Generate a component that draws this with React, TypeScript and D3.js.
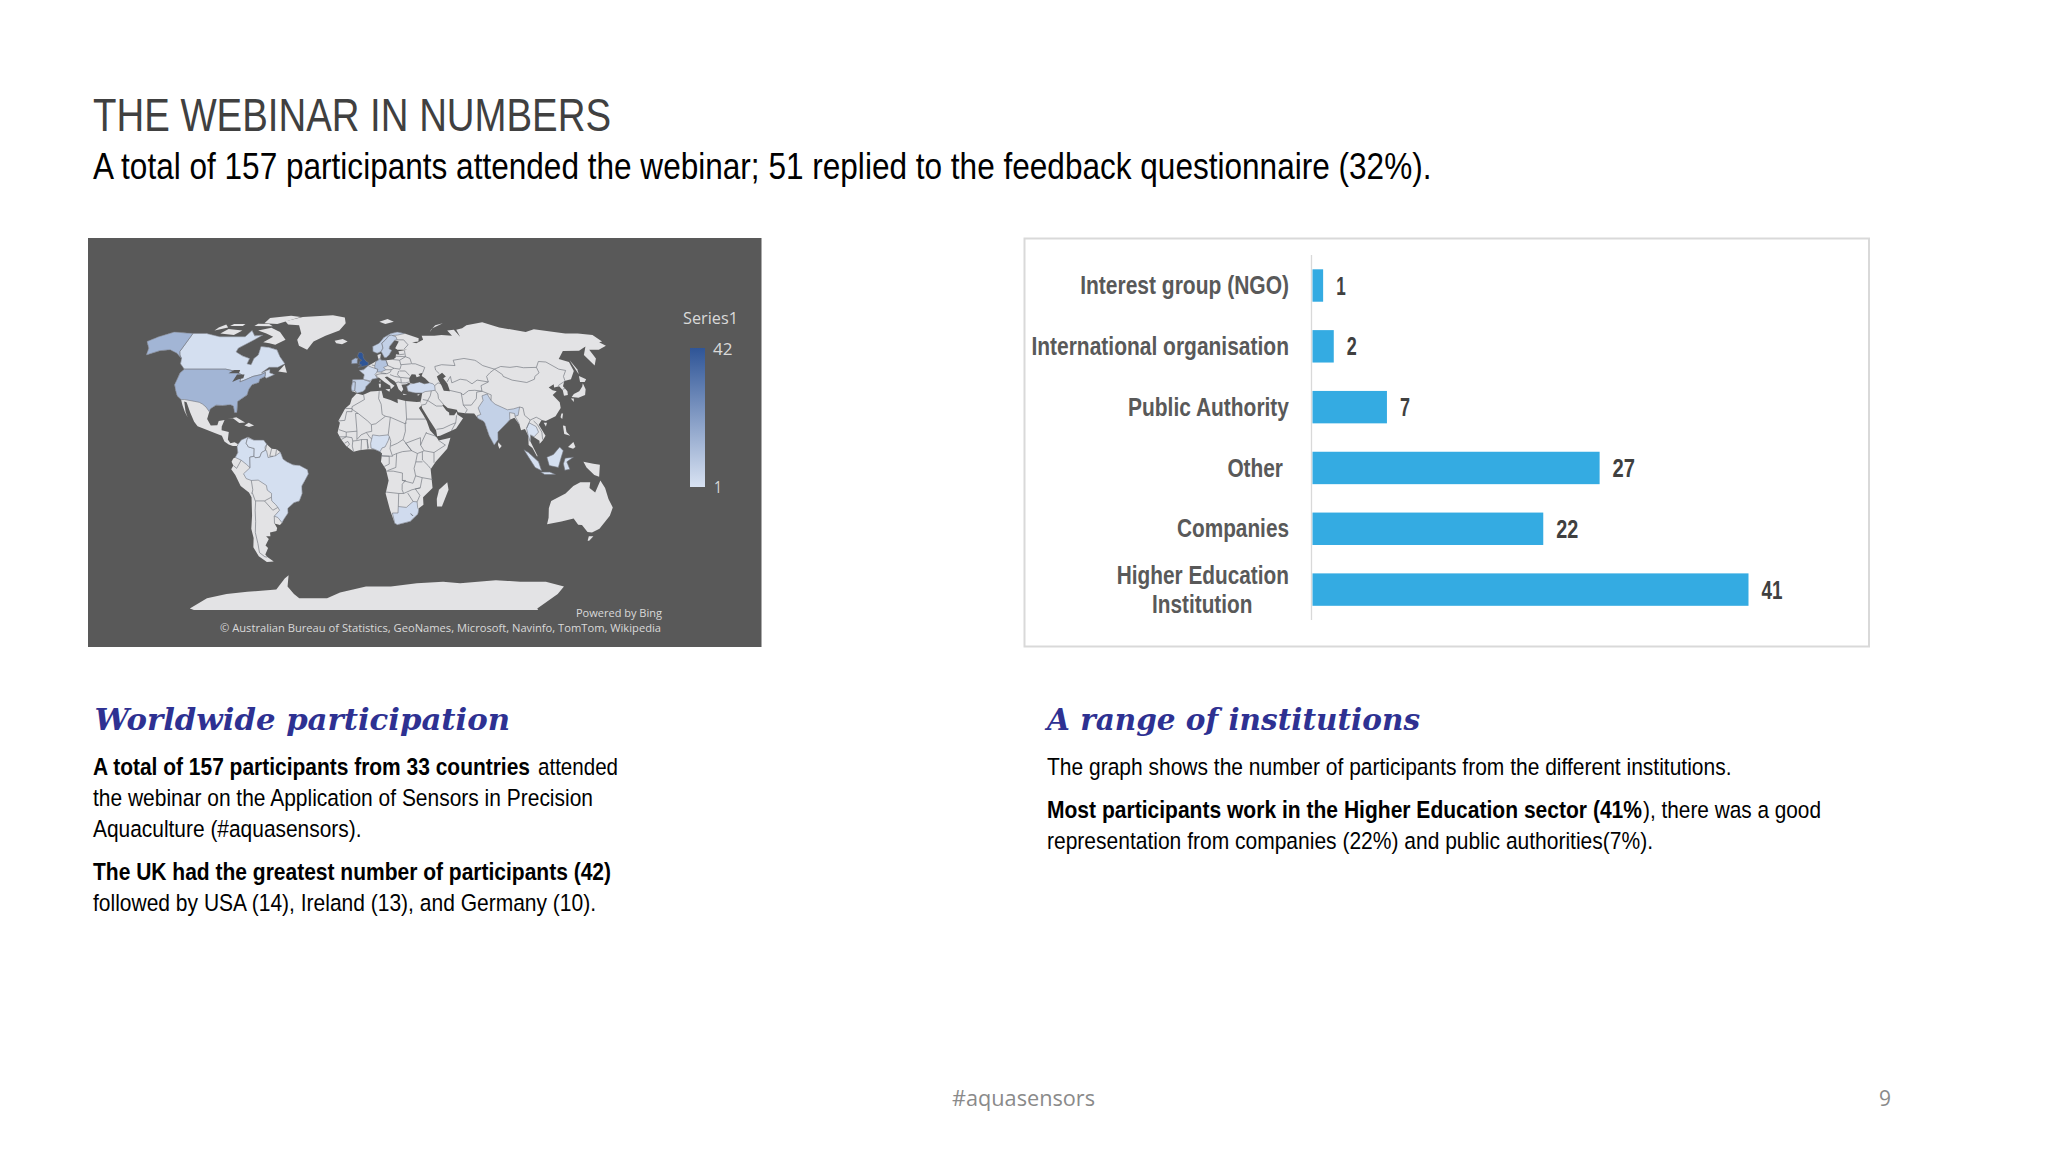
import React from 'react';
import * as d3 from 'd3';

/* ---------- bar chart data ---------- */
const categories = ['Interest group (NGO)', 'International organisation', 'Public Authority', 'Other', 'Companies', 'Higher Education Institution'];
const barLengths = [1, 2, 7, 27, 21.7, 41];
const valueLabels = ['1', '2', '7', '27', '22', '41'];

/* ---------- participants per country (choropleth) ---------- */
const countryCounts: Record<string, number> = {
  uk: 42, usa: 14, ireland: 13, germany: 10, portugal: 7, india: 6, spain: 6, sweden: 6, norway: 6,
  southAfrica: 3, turkey: 3, indonesia: 2, france: 3, canada: 2, brazil: 2, nigeria: 2, colombia: 2, thailand: 1, venezuela: 1,
};

/* ---------- pseudo-cylindrical table ---------- */
const tableLat = [0, 5, 10, 15, 20, 25, 30, 35, 40, 45, 50, 55, 60, 65, 70, 75, 80, 85, 90];
const tableLen = [1, .9986, .9954, .99, .9822, .973, .96, .9427, .93, .908, .885, .855, .825, .79, .75, .70, .65, .61, .576];
const tableDrop = [0, .062, .124, .186, .248, .31, .372, .434, .4958, .5571, .6176, .6769, .7346, .7903, .8435, .8936, .9394, .9761, 1];

/* ---------- geography, lon/lat ---------- */
type R = number[][];
const northAmericaLand: R = [[-139,70],[-156,71],[-163,68],[-167,65],[-160,61],[-158,58.5],[-157,57],[-150,59.5],[-143,60],[-136,58],[-130,55],[-128,52],[-123,49],[-124.6,47],[-124.3,40.5],[-122.5,37.5],[-120.5,34.5],[-117.1,32.5],[-115,29.5],[-112.5,26],[-110,23],[-112,26],[-114.7,31.5],[-113,31],[-109,25.5],[-105.5,20.5],[-103,18.2],[-96,15.8],[-92,14.5],[-87.5,13],[-85.7,10],[-83,8.3],[-80.5,7.5],[-78,7.5],[-77.3,8.5],[-79.5,9.5],[-82,9],[-83.7,11],[-83.5,15],[-88,16],[-88.2,18],[-87,21.5],[-90.5,21],[-91,18.7],[-95,18.6],[-97.8,22],[-97.3,26],[-97,27.5],[-94,29.5],[-90,29.3],[-85,29.7],[-83,29],[-81.5,25.5],[-80,25.5],[-81,31.5],[-76,35],[-75.5,38],[-74,40.5],[-70,41.7],[-70,43.5],[-67,45],[-66,44],[-61,46],[-64.5,47],[-65,49],[-70,47],[-66,50],[-60,50],[-56,52],[-61,56],[-65,60],[-72,61.5],[-78,62],[-77,57],[-79,55],[-79,51.5],[-82,52],[-82,55],[-88,56.5],[-94,58.8],[-94,61],[-86,66],[-82,69],[-88,68.5],[-94,72],[-95,68],[-108,68],[-115,68],[-128,70]];
const southAmericaLand: R = [[-77.3,8.5],[-75.5,10.8],[-71.5,12.4],[-68,10.7],[-62,10.7],[-60,8.5],[-57,6],[-54,5.8],[-51.6,4.2],[-50,0.5],[-48,-0.8],[-44,-2.6],[-40,-2.9],[-35.3,-5.2],[-34.8,-7.5],[-37,-11],[-39,-14],[-39,-18],[-41,-22],[-44.5,-23],[-48.5,-26],[-48.7,-28.5],[-52,-32],[-53.4,-33.7],[-55,-35],[-58.3,-34.2],[-57,-36.5],[-57.7,-38.2],[-62,-39],[-62.2,-41],[-65,-41],[-63.7,-42.5],[-67,-46],[-65.8,-47.5],[-69,-51],[-68.3,-52.5],[-65,-55],[-70,-55.3],[-74,-52],[-75.5,-47],[-73.5,-42],[-73.7,-37],[-71.5,-30],[-70.2,-20],[-71.5,-17.5],[-76.2,-14],[-79,-8],[-81.3,-5],[-80,-3],[-81,-1],[-80,0.8],[-78.8,1.4],[-77.3,4],[-77.9,7.2]];
const africaLand: R = [[-6,35.8],[-2,35],[3,36.9],[10,37.3],[11,33.5],[15.5,32.2],[20,30.5],[20,32.8],[25,31.7],[32,31.2],[34.3,31.3],[34.9,29.5],[33,28],[35.5,24],[37.3,21],[39,16],[43,12],[44,10.5],[51.2,11.9],[49,6],[42,-1],[39,-5],[40.5,-15],[35,-20],[35.5,-24],[32.8,-26],[32.5,-29],[28,-33],[20,-34.8],[18.3,-34],[15,-27],[12,-18],[13.7,-11],[12,-5],[9,-1],[9.7,3.5],[8.5,4.5],[5,5.8],[1,5.8],[-4,5.2],[-7.5,4.5],[-12,7.5],[-15,11],[-17.3,14.7],[-16,20],[-17,21],[-13,27.7],[-10,30],[-9,33]];
const eurasiaLand: R = [[-9,37],[-9.5,38.7],[-8.8,43.2],[-1.8,43.4],[-1.2,46],[-4.7,48.4],[-1.6,48.7],[1.5,50.9],[4,52],[7,53.5],[8.7,54],[8.2,57],[10.7,57.7],[10,55],[11,54],[14,54],[19,54.4],[21,55.5],[21.5,57.5],[24,57.2],[23.5,59.2],[28,59.7],[30,60],[23,60],[21.5,61],[25,65],[22,65.8],[17.5,62],[17,60.5],[18.8,59.8],[16.5,57],[14.3,55.5],[13,55.5],[11,59],[8,58],[5.5,59],[5,62],[10,64],[14,67.5],[20,70],[25.5,71],[31,70],[41,67],[40,65],[35,64.5],[38,64],[44,66],[44,68.5],[54,68.5],[60,69],[68,68.5],[67,72],[73,72.5],[74,68],[75,72.5],[81,73.5],[87,75.5],[104,77.7],[113,74],[130,71],[140,72.8],[160,70],[170,70],[180,69],[180,65],[177,64.5],[179,62.5],[170,60],[163,60],[162,55],[156.7,51],[155.7,57],[163,62],[155,59.5],[143,59.3],[135.5,54.7],[141,53],[140,48],[135,43.5],[130,42.5],[127.5,39.7],[129.4,37],[129,35],[126.3,34.5],[126.6,37.5],[125,39.7],[121.5,39],[122,40.7],[118,39],[120,37.5],[122.5,37],[119.3,35],[122,31],[121.5,28],[117,23.5],[110.5,21],[108,21.5],[105.8,19],[109,13],[107,10.5],[105,8.7],[105,10.3],[100,13.5],[99.5,10],[103.5,2],[103,2],[100.5,6.5],[98.3,8],[98.5,13],[97,16.7],[94.5,16],[94,19],[91.5,22.7],[88.5,21.7],[86.5,20],[80.3,15],[80,11],[77.5,8],[74.8,13],[72.8,20],[72,21],[69,22.3],[67,25],[61.5,25.2],[57,25.7],[56.5,27],[51,28],[48.5,30],[47.8,29.5],[50,26.5],[51.5,25.5],[51.5,24],[54.5,24],[56.3,26],[56.5,24.5],[59.8,22.5],[55,17],[52,15.7],[45,13],[43.2,12.8],[42.7,16],[39,21.5],[35,28],[34.8,29.5],[34.3,31.3],[35,32.8],[36,36],[32,36],[29,36.5],[27,37],[26.3,39.5],[29,41],[28,41.5],[26,40.8],[23,40.5],[24,38],[22.8,36.5],[21,38],[19.5,41.5],[18.5,42.5],[14,45],[12.4,44.5],[16,41.5],[18.5,40],[16,38],[15.7,40],[12,42],[8.5,44.4],[4,43.5],[3,42],[0,39.5],[-0.5,38],[-2,36.8],[-5.5,36]];
const greenland: R = [[-73,78.5],[-60,82],[-32,83.5],[-20,81.5],[-18,77],[-22,72],[-32,68.5],[-40,65],[-43,60],[-50,62.5],[-53,66],[-52,70],[-58,75.5],[-68,76]];
const baffin: R = [[-62,66],[-68,63],[-73,64],[-78,64.5],[-73,68],[-80,70],[-89,72],[-80,73.8],[-70,71]];
const victoriaIsland: R = [[-117,70],[-105,69],[-102,72],[-115,73]];
const ellesmere: R = [[-90,77],[-78,76.5],[-62,82],[-72,83],[-90,81]];
const banksIsland: R = [[-125,72],[-117,74],[-122,76],[-125,74]];
const devonIsland: R = [[-96,75],[-80,74.8],[-85,76.4],[-95,76.6]];
const melvilleIsland: R = [[-117,75],[-106,75],[-106,76.5],[-116,76.5]];
const newfoundland: R = [[-59,47.7],[-53,47],[-56,51.5]];
const cuba: R = [[-85,22],[-80,23],[-74.2,20.2],[-77.7,19.9],[-82,22.5]];
const hispaniola: R = [[-74.4,18.5],[-72,20],[-68.5,18.6],[-71.5,17.8]];
const iceland: R = [[-24,65.5],[-18,66.5],[-14,65],[-18,63.4],[-22.5,64]];
const svalbard: R = [[12,78],[20,80],[25,78],[17,76.5]];
const novayaZemlya: R = [[52,71],[56,73.5],[68,77],[60,75.5],[54,72.5]];
const honshu: R = [[130.9,33.9],[135,33.5],[140,35],[141.5,38],[141.3,41.3],[139.9,39.5],[137,37],[133,35.5]];
const hokkaido: R = [[140,42],[141.5,45.3],[145,43.5],[143,42]];
const kyushu: R = [[130,33],[131.8,33],[131,31.2]];
const sakhalin: R = [[142,46],[143,49],[142.5,54],[142,52]];
const taiwan: R = [[121,25],[122,25],[120.8,22],[120,23]];
const hainan: R = [[109,20],[111,20],[110,18]];
const sriLanka: R = [[80,9.5],[82,7.5],[80.5,6],[79.8,8]];
const luzon: R = [[120.5,18.5],[122,18.3],[122,15],[124,13],[120.5,14]];
const mindanao: R = [[122,7],[125.5,9.7],[126.5,7],[125,6]];
const papua: R = [[131,-1],[137,-2],[141,-2.6],[141,-9],[138,-8],[133,-4]];
const australia: R = [[114,-22],[122,-18],[126,-14],[130,-12],[136,-12],[136,-15],[140,-17.5],[142,-11],[145.5,-15],[149,-21],[153,-25.5],[153,-30],[150,-37],[146,-39],[143,-38.7],[138,-35],[135.5,-34.8],[131,-31.5],[124,-33],[115.5,-34.5],[115,-31],[113.5,-26]];
const tasmania: R = [[145,-41],[148,-41],[147,-43.5],[146,-43.5]];
const madagascar: R = [[49.3,-12],[50.3,-16],[47,-25],[44,-25],[43.5,-21],[44.5,-16]];
const sicily: R = [[12.5,38],[15.5,38.2],[15,36.7]];
const sardinia: R = [[8.3,41],[9.7,41],[9.5,39],[8.5,39]];
const corsica: R = [[8.7,42.5],[9.5,43],[9.3,41.5]];
const crete: R = [[23.5,35.6],[26.3,35.3],[24,35]];
const cyprus: R = [[32.4,35],[34.5,35.6],[33.6,34.7]];
const antarctica: R = [[-180,-90],[-180,-88],[-143,-78],[-120,-75],[-100,-73.5],[-74,-72],[-62,-65],[-58,-63],[-60,-66],[-63,-70],[-62,-75],[-60,-78],[-35,-78],[-22,-74],[0,-70],[20,-70],[40,-68],[60,-67],[74,-68],[100,-66],[120,-67],[140,-67],[159,-70],[165,-75],[175,-88],[180,-90]];
const landRings = [northAmericaLand, southAmericaLand, africaLand, eurasiaLand, greenland, baffin, victoriaIsland, ellesmere, banksIsland, devonIsland, melvilleIsland, newfoundland, cuba, hispaniola, iceland, svalbard, novayaZemlya, honshu, hokkaido, kyushu, sakhalin, taiwan, hainan, sriLanka, luzon, mindanao, papua, australia, tasmania, madagascar, sicily, sardinia, corsica, crete, cyprus, antarctica];

const blackSea: R = [[28.5,41.5],[31,41.2],[35,42],[38,41],[41.5,41.5],[39,44],[37,45.3],[38,47],[35,46.3],[36,45.2],[33.5,44.5],[33,46],[30.5,46.2],[28.5,44]];
const caspian: R = [[47,45],[51,47],[53,45],[51,44],[53,41],[54,37],[50,37.3],[49,40],[47.5,43]];
const superior: R = [[-92,46.7],[-85,46.7],[-85,48.5],[-89,48.5]];
const huron: R = [[-87.5,42],[-84,43.5],[-81,44],[-81,46],[-86,46]];
const waterRings = [blackSea, caspian, superior, huron];

const canada: R = [[-139,70],[-128,70],[-115,68],[-108,68],[-95,68],[-94,72],[-88,68.5],[-82,69],[-86,66],[-94,61],[-94,58.8],[-88,56.5],[-82,55],[-82,52],[-79,51.5],[-79,55],[-77,57],[-78,62],[-72,61.5],[-65,60],[-61,56],[-56,52],[-60,50],[-66,50],[-70,47],[-65,49],[-64.5,47],[-61,46],[-66,44],[-67,45],[-67.5,47.2],[-70,46],[-75,45],[-79,43.3],[-82.5,42],[-83,46],[-89,48],[-95,49],[-123,49],[-128,52],[-130,55],[-133,57],[-135,59]];
const usaLower: R = [[-123,49],[-95,49],[-89,48],[-83,46],[-82.5,42],[-79,43.3],[-75,45],[-70,46],[-67.5,47.2],[-67,45],[-70,43.5],[-70,41.7],[-74,40.5],[-75.5,38],[-76,35],[-81,31.5],[-80,25.5],[-81.5,25.5],[-83,29],[-85,29.7],[-90,29.3],[-94,29.5],[-97,27.5],[-97.3,26],[-100,28.5],[-102.5,30],[-105,31],[-108,31.5],[-114.8,32.5],[-117.1,32.5],[-120.5,34.5],[-122.5,37.5],[-124.3,40.5],[-124.6,47]];
const alaska: R = [[-139,70],[-156,71],[-163,68],[-167,65],[-160,61],[-158,58.5],[-157,57],[-150,59.5],[-143,60],[-136,58],[-130,55],[-133,57],[-135,59]];
const ukRing: R = [[-5.5,50],[1.4,51.2],[1.7,52.7],[0,53.5],[-1.5,55],[-2,56],[-2,57.6],[-3.5,58.6],[-5.2,58.5],[-6,56.5],[-5,55],[-3,54],[-4.5,53.2],[-4.5,52],[-5.2,51.7],[-3,51.3]];
const irelandRing: R = [[-6,52.2],[-6,54],[-5.6,55],[-7.5,55.3],[-10,54],[-10,52]];
const spainRing: R = [[-9,42],[-8.8,43.2],[-1.8,43.4],[3,42],[0,39.5],[-0.5,38],[-2,36.8],[-5.5,36],[-7.3,37.2],[-7,42]];
const portugalRing: R = [[-9,37],[-9.5,38.7],[-8.8,42],[-7,42],[-7.3,37.2]];
const franceRing: R = [[-1.8,43.4],[-1.2,46],[-4.7,48.4],[-1.6,48.7],[1.5,50.9],[4,50],[8,49],[7.5,47.5],[6,46],[7.5,44],[4,43.5],[3,42.5]];
const germanyRing: R = [[6,51],[7,53.5],[8.7,54],[9,55],[11,54],[14,54],[15,51],[12,50],[13.5,48.7],[10,47.4],[7.5,47.5],[8,49],[6,49.5]];
const norwayRing: R = [[5,59],[8,58],[11,59],[12.5,61],[12,64],[15,66],[18,68.5],[25,69],[31,70],[25.5,71],[20,70],[14,67.5],[10,64],[5,62]];
const swedenRing: R = [[11,59],[13,55.5],[14.3,55.5],[16.5,57],[18.8,59.8],[17,60.5],[17.5,62],[22,65.8],[24,66],[23.5,68],[20,69],[18,68.5],[15,66],[12,64],[12.5,61]];
const turkeyRing: R = [[26.3,39.5],[27,37],[29,36.5],[32,36],[36,36],[38,36.8],[42,37.2],[44.5,37.5],[44.5,40],[43.5,41],[41.5,41.5],[38,41],[35,42],[31,41.2],[29,41]];
const indiaRing: R = [[68.5,23.7],[71,24.5],[70,28],[74,32],[74,34.5],[77.5,35.5],[79,32],[81,30],[88,27],[92,27.5],[96,28.5],[94,24],[92,23.5],[92,25],[89,25.5],[88.5,21.7],[86.5,20],[80.3,15],[80,11],[77.5,8],[74.8,13],[72.8,20],[72,21],[69,22.3]];
const thailandRing: R = [[98,17],[100,20],[104,18],[105,15],[102,12.5],[100,13.5],[99.3,10],[98.5,13]];
const kalimantan: R = [[109,1.5],[113,3],[117,7],[119,5],[117.5,1],[116,-4],[110.5,-3]];
const sumatra: R = [[95.3,5.5],[98,4],[104,-1],[106,-5.8],[102,-4],[98,1.5]];
const java: R = [[105.5,-6.5],[111,-6.5],[114.5,-7.8],[108,-7.8]];
const sulawesi: R = [[120,1],[125,1.5],[121,-1],[123,-5],[120,-5.5],[119,-2]];
const nigeriaRing: R = [[3,6.4],[5,5.8],[8.5,4.5],[9.7,6.5],[11.5,7],[13.5,10.5],[14.2,12.5],[13.5,13.5],[8,13],[4,13.5],[3.5,11.5],[2.8,9]];
const southAfricaRing: R = [[16.5,-28.5],[20,-28.5],[20,-25],[25,-25.5],[29,-22.3],[31.5,-22.5],[32,-25.5],[32.8,-26.8],[32.5,-29],[28,-33],[20,-34.8],[18.3,-34]];
const colombiaRing: R = [[-77.3,8.5],[-75.5,10.8],[-71.5,12.4],[-72,11],[-72.5,9],[-71,7],[-67.5,6.2],[-67.5,2],[-70,1.5],[-69.9,-4.2],[-72,-2.4],[-75.2,-0.1],[-78.8,1.4],[-77.3,4],[-77.9,7.2]];
const venezuelaRing: R = [[-71.5,12],[-68,10.7],[-62,10.7],[-60,8.5],[-61,7],[-60.7,5.2],[-63,4],[-64,1.5],[-66.8,1.2],[-67.5,2],[-67.5,6.2],[-71,7],[-72.5,9],[-72,11]];
const brazilRing: R = [[-60,5],[-59,1.3],[-56,2],[-54.5,2.3],[-51.6,4.2],[-50,0.5],[-48,-0.8],[-44,-2.6],[-40,-2.9],[-35.3,-5.2],[-34.8,-7.5],[-37,-11],[-39,-14],[-39,-18],[-41,-22],[-44.5,-23],[-48.5,-26],[-48.7,-28.5],[-52,-32],[-53.4,-33.7],[-55.5,-30.9],[-57.6,-30.2],[-53.8,-27],[-54.6,-25.5],[-55.8,-24],[-58,-22],[-58,-20],[-57.7,-18],[-60.2,-16.2],[-60.5,-13.7],[-65.3,-10.8],[-69.5,-11],[-72.5,-10],[-74,-7.4],[-70,-4.2],[-69.9,-4.2],[-70,1.5],[-67.5,2],[-66.8,1.2],[-64,1.5],[-63,4],[-60.7,5.2]];

const countryShapes: [string, R][] = [
  ['canada', canada], ['usa', usaLower], ['usa', alaska], ['uk', ukRing], ['ireland', irelandRing], ['spain', spainRing], ['portugal', portugalRing],
  ['france', franceRing], ['germany', germanyRing], ['norway', norwayRing], ['sweden', swedenRing], ['turkey', turkeyRing], ['india', indiaRing],
  ['thailand', thailandRing], ['indonesia', kalimantan], ['indonesia', sumatra], ['indonesia', java], ['indonesia', sulawesi], ['nigeria', nigeriaRing],
  ['southAfrica', southAfricaRing], ['colombia', colombiaRing], ['venezuela', venezuelaRing], ['brazil', brazilRing],
];

const africaBorders: R[] = [
  [[-1.5,35],[-1,32.5],[-8.7,28.7],[-8.7,27.3]], [[-13,27.7],[-8.7,27.7]], [[-8.7,27.3],[-8.7,26],[-12,26],[-13,21.3],[-17,21]],
  [[8.5,37],[8,33],[9.5,30],[10,24.5],[12,23.5]], [[-8.7,27.3],[-4.8,25],[1,21],[3.3,19],[6,19.5],[12,23.5]], [[-4.8,25],[-6.5,25],[-5.5,15.5],[-12,15],[-16.5,16.3]],
  [[25,31.7],[25,22]], [[25,20],[24,19.5],[15,23],[12,23.5]], [[25,22],[36.8,22]], [[25,22],[24,19.5],[24,15.5],[22.5,11]], [[15,23],[13.5,13.5]],
  [[3.3,19],[3.5,15.4],[1,15],[0.2,14.8],[2.5,12],[3.5,11.5]], [[1.6,6.2],[0.8,10],[0.9,11]], [[-3,5.2],[-2.7,11]], [[0.9,11],[-2.7,11],[-5,10.5]], [[1,6],[0.7,11]],
  [[-7.5,4.5],[-8.3,7.5],[-8,10.2],[-5,10.5]], [[-5.5,15.5],[-5.5,11],[-3,13.5],[0.2,14.8]], [[-15,11],[-12,12.5],[-8.5,12],[-8,10.2]], [[-12,15],[-12,12.5],[-16.7,12.4]],
  [[-13,9],[-11,10],[-10,8.5],[-11.5,7]], [[8.5,4.5],[9.7,2.2],[16,2],[14.5,6],[15,10],[14.2,12.5]], [[15,7.5],[19,9],[22.5,11],[27.5,5],[22,4.5],[18.5,3.5],[16,2.5]],
  [[24,9],[27.5,5],[31,3.5],[34,4.5],[35,5],[33,8],[33,12],[24,9]], [[36.8,15],[34,10],[33,8]], [[36.5,14.5],[42.5,12.8]], [[35,5],[41,4],[48,8],[44,10.5]], [[41,4],[41,-1.5]],
  [[34,4.5],[34,0],[37.5,-3],[39,-4.7]], [[30,-1],[34,-1]], [[31,3.5],[30,-1],[29,-4.5],[30,-8.5],[28.5,-12.5],[22,-11],[22,-7],[16.5,-6],[12.2,-6]], [[13,-5.7],[18,-4],[18.5,3.5]],
  [[9.7,2.2],[14,2],[14,-2.2],[11,-3.5]], [[12,-17.2],[20,-18],[23,-18]], [[22,-11],[24,-11],[22,-13],[22,-16],[23,-18]], [[30,-8.5],[34,-9.5],[40.5,-10.5]],
  [[23,-18],[28,-16],[33,-15],[34,-9.5]], [[33,-15],[30,-15.5],[33,-19],[31.5,-22.5]], [[20,-18],[20,-25]], [[29,-22.3],[25.5,-17.8]], [[28.5,-29.5],[29.5,-30],[28,-28.8],[28.5,-29.5]],
];
const asiaBorders: R[] = [
  [[28,59.5],[28,56],[31,55],[31.5,52],[34,52],[40,50],[38,47]], [[49,46.5],[47,48.5],[47,50.5],[52,51.5],[61,51],[61,54],[69,55],[76,54],[77,53.5],[80,51],[87,49]],
  [[87,49],[92,50.5],[98,50],[103,50.5],[107,49.8],[116,50]], [[87,49],[91,46],[91,45],[96,43],[105,41.7],[111,43.5],[112,45],[116,47],[116,50]],
  [[116,50],[120,53.3],[125,53],[130.5,49],[134.7,48.3],[131,45],[130.5,42.7]], [[124.5,40],[128,41.5],[130.5,42.5]], [[126.7,38],[128.4,38.5]],
  [[87,49],[83,47],[80,45],[80,42]], [[53,42],[56,45],[56,41.5],[62,43.5],[66,43],[69,41],[73,43],[80,42]], [[54,37.4],[61,36],[62,35],[66,37.3],[70,37.5],[74.5,37]],
  [[61,36],[61,29.5],[63,27],[61.5,25.2]], [[61,29.5],[66,29.5],[70,33],[71,36.5],[74.5,37]], [[48.5,30],[46,33],[46,35.5],[44.5,37.5]], [[42,37.2],[41,34.5],[39,32]],
  [[36,32.5],[39,32],[37.5,30],[34.9,29.5]], [[39,32],[44,29],[47.8,29]], [[43,16.5],[47,17],[52,19],[55,20],[52,15.7]], [[55,20],[56,24]], [[44.5,40],[47,41.5],[49,41]],
  [[74.5,37],[80,35],[79,32]], [[96,28.5],[98,28],[98,24],[101,21.5],[105,23],[108,21.5]], [[101,21.5],[98,17]], [[103,21],[105,19],[107,15],[107,11]], [[80,42],[74.5,40],[74.5,37]],
  [[92,23.5],[94,19]],
];
const europeBorders: R[] = [
  [[14,54],[15,51],[19,49.5],[23,49],[24,51],[23.5,54],[19,54.4]], [[13.5,48.7],[17,48.7],[19,49.5]], [[10,47],[14,46.5],[16.5,47.5],[17,48.7]], [[22,48],[21,46],[22.5,44.5],[28.5,44]],
  [[22.5,48],[26.5,48],[29,45.5]], [[24,51.5],[31,52]], [[23.5,54],[28,56]], [[21,56.3],[28,56]], [[24,57.2],[27.5,57.5]], [[7.5,44],[7,46],[10,46.5],[13.5,46.5]],
  [[19.5,41.5],[21,42],[23,41.5],[26,41.5],[28,42]], [[22.5,44.5],[19,45],[16,46]], [[23,44],[23,41.5]], [[4,51.3],[6,51]], [[24,66],[29,66],[31.5,63],[28,60.5]],
];
const southAmericaBorders: R[] = [
  [[-60,8.5],[-60.7,5.2]], [[-57,6],[-58,2],[-56,2]], [[-54,5.8],[-54.5,2.3]], [[-80,-3],[-78,-4.5],[-75.2,-0.1]], [[-69.5,-11],[-69,-16],[-69.5,-17.5],[-70.2,-18]],
  [[-69.5,-17.5],[-68,-22.5],[-69,-27],[-70,-33],[-71.5,-39],[-71.7,-45],[-72.5,-50],[-70,-52.3],[-68.5,-52.5]], [[-68,-22],[-62.5,-22],[-58,-20]], [[-62.5,-22],[-58,-27],[-54.6,-25.5]],
  [[-58.3,-34.2],[-57.6,-30.2]],
];
const borderLines = [...africaBorders, ...asiaBorders, ...europeBorders, ...southAmericaBorders];

/* ---------- layout ---------- */
const W = 2048, H = 1152;
const sans = '"Liberation Sans", Arial, sans-serif';
const open = '"Open Sans", sans-serif';
const lenScale = d3.scaleLinear().domain(tableLat).range(tableLen);
const dropScale = d3.scaleLinear().domain(tableLat).range(tableDrop);
const mapX = d3.scaleLinear().domain([-180, 180]).range([67.2, 664.8]);
const mapY = d3.scaleLinear().domain([-1, 1]).range([610, 310]);
const geo = d3.geoPath(d3.geoTransform({
  point(lon: number, lat: number) {
    const a = Math.abs(lat);
    (this as any).stream.point(mapX(lon * lenScale(a)), mapY(Math.sign(lat) * dropScale(a)));
  },
}) as any);
const polygon = (r: R) => geo({ type: 'Polygon', coordinates: [[...r, r[0]]] } as any) || '';
const line = (r: R) => geo({ type: 'LineString', coordinates: r } as any) || '';
const colour = d3.scaleLinear<string>().domain([1, 42]).range(['#d8e2f2', '#2f5597']);

const y = d3.scaleBand().domain(categories).range([255.1, 620]).paddingInner(0.467).paddingOuter(0.2335);
const x = d3.scaleLinear().domain([0, 41]).range([1312.5, 1748.5]);
const catWidths = [208.8, 257.6, 161, 55.6, 112];
const valueWidths = [9.5, 10, 10, 22.4, 22, 21];

type TP = { x: number; y: number; w: number; size: number; fill?: string; bold?: boolean; anchor?: string; family?: string; italic?: boolean; children: string };
const T = ({ x, y, w, size, fill = '#000', bold, anchor = 'start', family = sans, italic, children }: TP) => (
  <text x={x} y={y} textLength={w} lengthAdjust="spacingAndGlyphs" fontSize={size} fill={fill} fontFamily={family}
    fontWeight={bold ? 700 : 400} fontStyle={italic ? 'italic' : 'normal'} textAnchor={anchor as any}>{children}</text>
);

export default function App() {
  return (
    <svg width={W} height={H} viewBox={`0 0 ${W} ${H}`} style={{ position: 'absolute', left: 0, top: 0, background: '#fff' }}>
      <defs>
        <linearGradient id="leg" x1="0" y1="0" x2="0" y2="1">
          <stop offset="0" stopColor={colour(42)} />
          <stop offset="1" stopColor={colour(1)} />
        </linearGradient>
        <filter id="soft" x="-5%" y="-5%" width="110%" height="110%"><feGaussianBlur stdDeviation="0.45" /></filter>
      </defs>

      <T x={93} y={131} w={518} size={46} fill="#404040">THE WEBINAR IN NUMBERS</T>
      <T x={93} y={179} w={1338.5} size={37}>A total of 157 participants attended the webinar; 51 replied to the feedback questionnaire (32%).</T>

      {/* map */}
      <rect x={88} y={238} width={673.5} height={409} fill="#595959" />
      <g filter="url(#soft)">
        {landRings.map((r, i) => <path key={i} d={polygon(r)} fill="#e3e3e5" />)}
        {countryShapes.map(([k, r], i) => <path key={i} d={polygon(r)} fill={colour(countryCounts[k])} stroke="#70747c" strokeWidth={0.6} />)}
        {borderLines.map((r, i) => <path key={i} d={line(r)} fill="none" stroke="#70747c" strokeWidth={0.65} />)}
        {waterRings.map((r, i) => <path key={i} d={polygon(r)} fill="#595959" />)}
      </g>
      <T x={683} y={324} w={55} size={17} fill="#d9d9d9" family={open}>Series1</T>
      <rect x={690} y={348} width={15} height={139} fill="url(#leg)" />
      <T x={713} y={355} w={19.5} size={16} fill="#d9d9d9" family={open}>42</T>
      <T x={714} y={493} w={8} size={16} fill="#d9d9d9" family={open}>1</T>
      <T x={576} y={617} w={86} size={11.5} fill="#d9d9d9" family={open}>Powered by Bing</T>
      <T x={220} y={632} w={441} size={11.5} fill="#d9d9d9" family={open}>© Australian Bureau of Statistics, GeoNames, Microsoft, Navinfo, TomTom, Wikipedia</T>

      {/* bar chart */}
      <rect x={1024.5} y={238.5} width={844.5} height={408} fill="#fff" stroke="#d9d9d9" strokeWidth={2} />
      <line x1={1311.5} x2={1311.5} y1={255} y2={620} stroke="#d9d9d9" strokeWidth={1.3} />
      {categories.map((c, i) => {
        const cy = (y(c) as number) + y.bandwidth() / 2;
        const v = barLengths[i];
        return (
          <g key={c}>
            <rect x={x(0)} y={y(c)} width={x(v) - x(0)} height={y.bandwidth()} fill="#34ABE2" />
            <T x={x(v) + 13} y={cy + 9} w={valueWidths[i]} size={25} bold fill="#404040">{valueLabels[i]}</T>
            {i < 5
              ? <T x={(i === 3 ? 1283 : 1289) - catWidths[i]} y={cy + 8.6} w={catWidths[i]} size={25} bold fill="#595959">{c}</T>
              : <>
                  <T x={1116.7} y={cy - 6} w={172.3} size={25} bold fill="#595959">{c.split(' ').slice(0, 2).join(' ')}</T>
                  <T x={1152} y={cy + 23.2} w={100.4} size={25} bold fill="#595959">{c.split(' ')[2]}</T>
                </>}
          </g>
        );
      })}

      {/* left text */}
      <T x={94.5} y={730} w={415.5} size={30} bold italic fill="#2E3192" family='"DejaVu Serif", serif'>Worldwide participation</T>
      <T x={93} y={775} w={437} size={24.5} bold>A total of 157 participants from 33 countries</T>
      <T x={538} y={775} w={80} size={24.5}>attended</T>
      <T x={93} y={806} w={500} size={24.5}>the webinar on the Application of Sensors in Precision</T>
      <T x={93} y={837} w={268.5} size={24.5}>Aquaculture (#aquasensors).</T>
      <T x={93} y={880} w={518} size={24.5} bold>The UK had the greatest number of participants (42)</T>
      <T x={93} y={911} w={503} size={24.5}>followed by USA (14), Ireland (13), and Germany (10).</T>

      {/* right text */}
      <T x={1047} y={730} w={373} size={30} bold italic fill="#2E3192" family='"DejaVu Serif", serif'>A range of institutions</T>
      <T x={1047} y={775} w={684.5} size={24.5}>The graph shows the number of participants from the different institutions.</T>
      <T x={1047} y={818} w={595} size={24.5} bold>Most participants work in the Higher Education sector (41%</T>
      <T x={1643} y={818} w={178} size={24.5}>), there was a good</T>
      <T x={1047} y={849} w={606} size={24.5}>representation from companies (22%) and public authorities(7%).</T>

      {/* footer */}
      <T x={952} y={1106} w={143} size={21.5} fill="#8a8a8a" family={open}>#aquasensors</T>
      <T x={1879} y={1106} w={12} size={21.5} fill="#8a8a8a" family={open}>9</T>
    </svg>
  );
}
